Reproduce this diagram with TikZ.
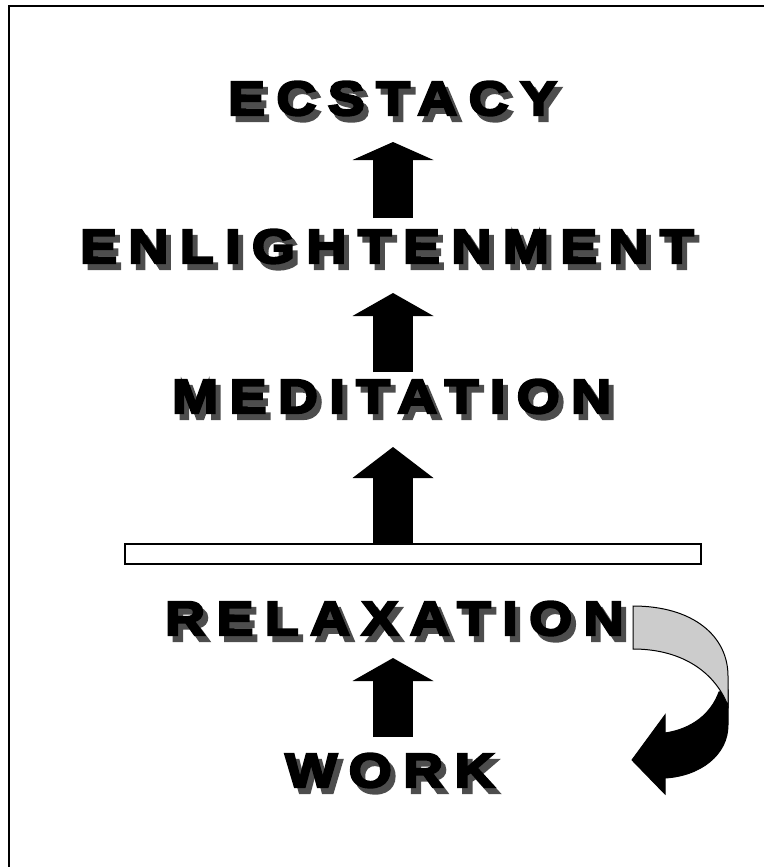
\documentclass[tikz,border=0pt]{standalone}
\usepackage{fontspec}
\usetikzlibrary{arrows.meta}
\newfontfamily\heavyfont{Liberation Sans Bold}[FakeBold=5,FakeStretch=1.15,LetterSpace=24]
\definecolor{shadowgray}{RGB}{77,77,77}
\definecolor{ribbongray}{RGB}{204,204,204}
% word with its grey drop shadow: name, x, y, text
\newcommand\shadowword[4]{%
  \node[word, text=shadowgray] (#1s) at (#2+5,#3+6) {#4};
  \node[word] (#1) at (#2,#3) {#4};}
\begin{document}
\begin{tikzpicture}[x=1pt,y=-1pt,
  word/.style={font=\heavyfont\fontsize{48pt}{48pt}\selectfont, inner sep=0pt, anchor=base west},
  blockarrow/.style={line width=40pt, -{Triangle[length=#1, width=81pt, line width=0pt]}},
  blockarrow/.default=20pt]
\useasboundingbox (0,0) rectangle (764,867);
% ---- frame (only top and left edges show) ----
\draw[line width=2pt] (9,867) -- (9,6) -- (764,6);
% ---- the words, bottom to top ----
\shadowword{work}{285}{787}{WORK}
\shadowword{relax}{165}{635}{RELAXATION}
\shadowword{medit}{172}{413}{MEDITATION}
\shadowword{enlight}{80}{263}{ENLIGHTENMENT}
\shadowword{ecstacy}{228}{115}{ECSTACY}
% ---- dividing bar ----
\draw[line width=1.5pt] (125,544) rectangle (701,564);
% ---- up arrows ----
\coordinate (a1s) at (393,218); \coordinate (a1e) at (393,142);
\coordinate (a2s) at (393,372); \coordinate (a2e) at (393,293);
\coordinate (a3s) at (393,544); \coordinate (a3e) at (393,447);
\coordinate (a4s) at (393,737); \coordinate (a4e) at (393,658);
\draw[blockarrow=18pt] (a1s) -- (a1e);
\draw[blockarrow=23pt] (a2s) -- (a2e);
\draw[blockarrow=31pt] (a3s) -- (a3e);
\draw[blockarrow=23pt] (a4s) -- (a4e);
% ---- curved arrow back down to work ----
\filldraw[line width=1pt] (728,690) -- (728,725)
  .. controls (728,755) and (700,776) .. (665,778) -- (665,794) -- (632,760)
  -- (665,715) -- (665,733) .. controls (692,729) and (711,714) .. (719,692) -- cycle;
\filldraw[fill=ribbongray, line width=1pt] (633,606)
  .. controls (693,606) and (728,636) .. (728,676) -- (728,706)
  .. controls (716,674) and (684,649) .. (633,649) -- cycle;
\end{tikzpicture}
\end{document}
